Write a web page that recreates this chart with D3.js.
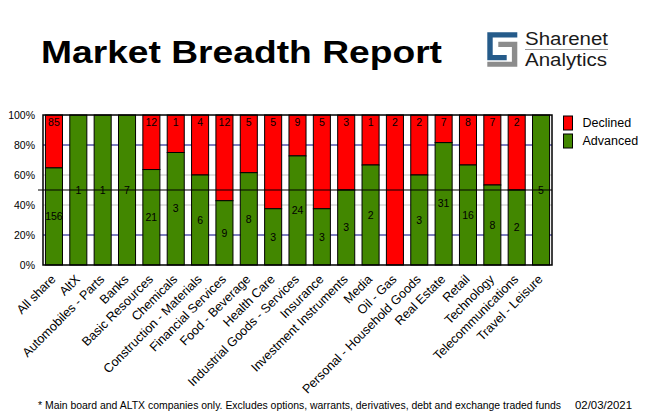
<!DOCTYPE html>
<html>
<head>
<meta charset="utf-8">
<script src="https://cdn.jsdelivr.net/npm/d3@7"></script>
<style>
    body { margin: 0; background: #fff; }
    #chart { width: 655px; height: 420px; }
    text { font-family: "Liberation Sans", Arial, sans-serif; }
</style>
</head>
<body>
<div id="chart"></div>
<script>

// DATA

const sectors = ["All share", "AltX", "Automobiles - Parts", "Banks", "Basic Resources", "Chemicals",
    "Construction - Materials", "Financial Services", "Food - Beverage", "Health Care",
    "Industrial Goods - Services", "Insurance", "Investment Instruments", "Media", "Oil - Gas",
    "Personal - Household Goods", "Real Estate", "Retail", "Technology", "Telecommunications",
    "Travel - Leisure"];

const advanced = [156, 1, 1, 7, 21, 3, 6, 9, 8, 3, 24, 3, 3, 2, 0, 3, 31, 16, 8, 2, 5];
const declined = [85, 0, 0, 0, 12, 1, 4, 12, 5, 5, 9, 5, 3, 1, 2, 2, 7, 8, 7, 2, 0];

const yTicks = [0, 20, 40, 60, 80, 100];
const legendKeys = ["Declined", "Advanced"];

const footnote = "* Main board and ALTX companies only. Excludes options, warrants, derivatives, debt and exchange traded funds";
const reportDate = "02/03/2021";

const rows = sectors.map(function(s, i) {
    const total = advanced[i] + declined[i];
    return {sector: s, adv: advanced[i], dec: declined[i], pct: advanced[i] / total * 100};
});

// SVG CANVAS

const width = 655;
const height = 420;
const margin = {top: 115, left: 43, right: 103, bottom: 155};

const svg = d3.select("#chart")
    .append("svg")
    .attr("width", width)
    .attr("height", height);

// SCALES

const xScale = d3.scaleBand()
    .domain(sectors)
    .range([margin.left, width - margin.right])
    .paddingInner(0.3)
    .paddingOuter(0.1);

const yScale = d3.scaleLinear()
    .domain([0, 100])
    .range([height - margin.bottom, margin.top]);

const colorScale = d3.scaleOrdinal()
    .domain(legendKeys)
    .range(["#ff0000", "#428700"]);

// GRIDLINES

const gridColor = {20: "#000080", 40: "#c0c0c0", 60: "#c0c0c0", 80: "#000080"};

svg.append("g")
    .selectAll("line")
    .data([20, 40, 60, 80])
    .enter()
    .append("line")
        .attr("x1", margin.left)
        .attr("x2", width - margin.right)
        .attr("y1", function(d) { return yScale(d); })
        .attr("y2", function(d) { return yScale(d); })
        .attr("stroke", function(d) { return gridColor[d]; })
        .attr("stroke-width", 1);

// BARS

const bars = svg.append("g");

bars.selectAll(".dec")
    .data(rows)
    .enter()
    .append("rect")
        .attr("class", "dec")
        .attr("x", function(d) { return xScale(d.sector); })
        .attr("y", yScale(100))
        .attr("width", xScale.bandwidth())
        .attr("height", function(d) { return yScale(d.pct) - yScale(100); })
        .attr("fill", colorScale("Declined"))
        .attr("stroke", "#000")
        .attr("stroke-width", 1);

bars.selectAll(".adv")
    .data(rows)
    .enter()
    .append("rect")
        .attr("class", "adv")
        .attr("x", function(d) { return xScale(d.sector); })
        .attr("y", function(d) { return yScale(d.pct); })
        .attr("width", xScale.bandwidth())
        .attr("height", function(d) { return yScale(0) - yScale(d.pct); })
        .attr("fill", colorScale("Advanced"))
        .attr("stroke", "#000")
        .attr("stroke-width", 1);

// 50% LINE

svg.append("line")
    .attr("x1", margin.left - 5)
    .attr("x2", width - margin.right)
    .attr("y1", yScale(50))
    .attr("y2", yScale(50))
    .attr("stroke", "#000")
    .attr("stroke-width", 1.2);

// BAR LABELS

bars.selectAll(".advLabel")
    .data(rows.filter(function(d) { return d.adv > 0; }))
    .enter()
    .append("text")
        .attr("x", function(d) { return xScale(d.sector) + xScale.bandwidth() / 2; })
        .attr("y", function(d) { return yScale(d.pct / 2); })
        .attr("dy", "0.35em")
        .attr("text-anchor", "middle")
        .attr("font-size", "10.5px")
        .text(function(d) { return d.adv; });

bars.selectAll(".decLabel")
    .data(rows.filter(function(d) { return d.dec > 0; }))
    .enter()
    .append("text")
        .attr("x", function(d) { return xScale(d.sector) + xScale.bandwidth() / 2; })
        .attr("y", yScale(100) + 7)
        .attr("dy", "0.35em")
        .attr("text-anchor", "middle")
        .attr("font-size", "10.5px")
        .text(function(d) { return d.dec; });

// FRAME

svg.append("rect")
    .attr("x", margin.left)
    .attr("y", margin.top)
    .attr("width", width - margin.right - margin.left)
    .attr("height", height - margin.bottom - margin.top)
    .attr("fill", "none")
    .attr("stroke", "#000")
    .attr("stroke-width", 1.5);

// AXES

const yAxis = svg.append("g")
    .attr("transform", `translate(${margin.left},0)`)
    .call(d3.axisLeft(yScale).tickValues(yTicks).tickSize(0).tickPadding(8)
        .tickFormat(function(d) { return d + "%"; }));

yAxis.select(".domain").remove();
yAxis.selectAll("text")
    .attr("font-family", "Liberation Sans, Arial, sans-serif")
    .attr("font-size", "10.5px")
    .attr("fill", "#000");

const xAxis = svg.append("g")
    .attr("transform", `translate(0,${height - margin.bottom})`)
    .call(d3.axisBottom(xScale).tickSize(0));

xAxis.select(".domain").remove();
xAxis.selectAll("text")
    .attr("x", 0)
    .attr("y", 0)
    .attr("dy", null)
    .attr("transform", "translate(2.5,15) rotate(-45)")
    .attr("text-anchor", "end")
    .attr("font-family", "Liberation Sans, Arial, sans-serif")
    .attr("font-size", "12.6px")
    .attr("fill", "#000");

// LEGEND

const legend = svg.append("g")
    .selectAll("g")
    .data(legendKeys)
    .enter()
    .append("g")
        .attr("transform", function(d, i) { return `translate(563.5,${116 + i * 18})`; });

legend.append("rect")
    .attr("width", 9)
    .attr("height", 14)
    .attr("fill", function(d) { return colorScale(d); })
    .attr("stroke", "#000")
    .attr("stroke-width", 1);

legend.append("text")
    .attr("x", 19)
    .attr("y", 11.3)
    .attr("font-size", "12.5px")
    .text(function(d) { return d; });

// TITLE

svg.append("text")
    .attr("x", 41)
    .attr("y", 62.5)
    .attr("font-family", "Open Sans, sans-serif")
    .attr("font-weight", 700)
    .attr("font-size", "32px")
    .attr("textLength", 401)
    .attr("lengthAdjust", "spacingAndGlyphs")
    .text("Market Breadth Report");

// LOGO

const logo = svg.append("g");

logo.append("path")
    .attr("d", "M487.3,32.3H517.3V37.5H492.7V55H506.7V60.2H487.3Z")
    .attr("fill", "#255b8a");

logo.append("path")
    .attr("d", "M498.3,41.7H517.3V66.7H487.3V61.7H511.9V46.9H498.3Z")
    .attr("fill", "#8c8c8c");

logo.append("text")
    .attr("x", 525)
    .attr("y", 45)
    .attr("font-family", "Lato, sans-serif")
    .attr("font-size", "17.5px")
    .attr("fill", "#1a1a1a")
    .attr("textLength", 83)
    .attr("lengthAdjust", "spacingAndGlyphs")
    .text("Sharenet");

logo.append("line")
    .attr("x1", 525)
    .attr("x2", 608)
    .attr("y1", 49.5)
    .attr("y2", 49.5)
    .attr("stroke", "#999")
    .attr("stroke-width", 1);

logo.append("text")
    .attr("x", 525)
    .attr("y", 65.7)
    .attr("font-family", "Lato, sans-serif")
    .attr("font-size", "17.5px")
    .attr("fill", "#1a1a1a")
    .attr("textLength", 82)
    .attr("lengthAdjust", "spacingAndGlyphs")
    .text("Analytics");

// FOOTER

svg.append("text")
    .attr("x", 38)
    .attr("y", 409)
    .attr("font-size", "10px")
    .attr("textLength", 523)
    .attr("lengthAdjust", "spacingAndGlyphs")
    .text(footnote);

svg.append("text")
    .attr("x", 575)
    .attr("y", 409)
    .attr("font-size", "10px")
    .attr("textLength", 57)
    .attr("lengthAdjust", "spacingAndGlyphs")
    .text(reportDate);

</script>
</body>
</html>
